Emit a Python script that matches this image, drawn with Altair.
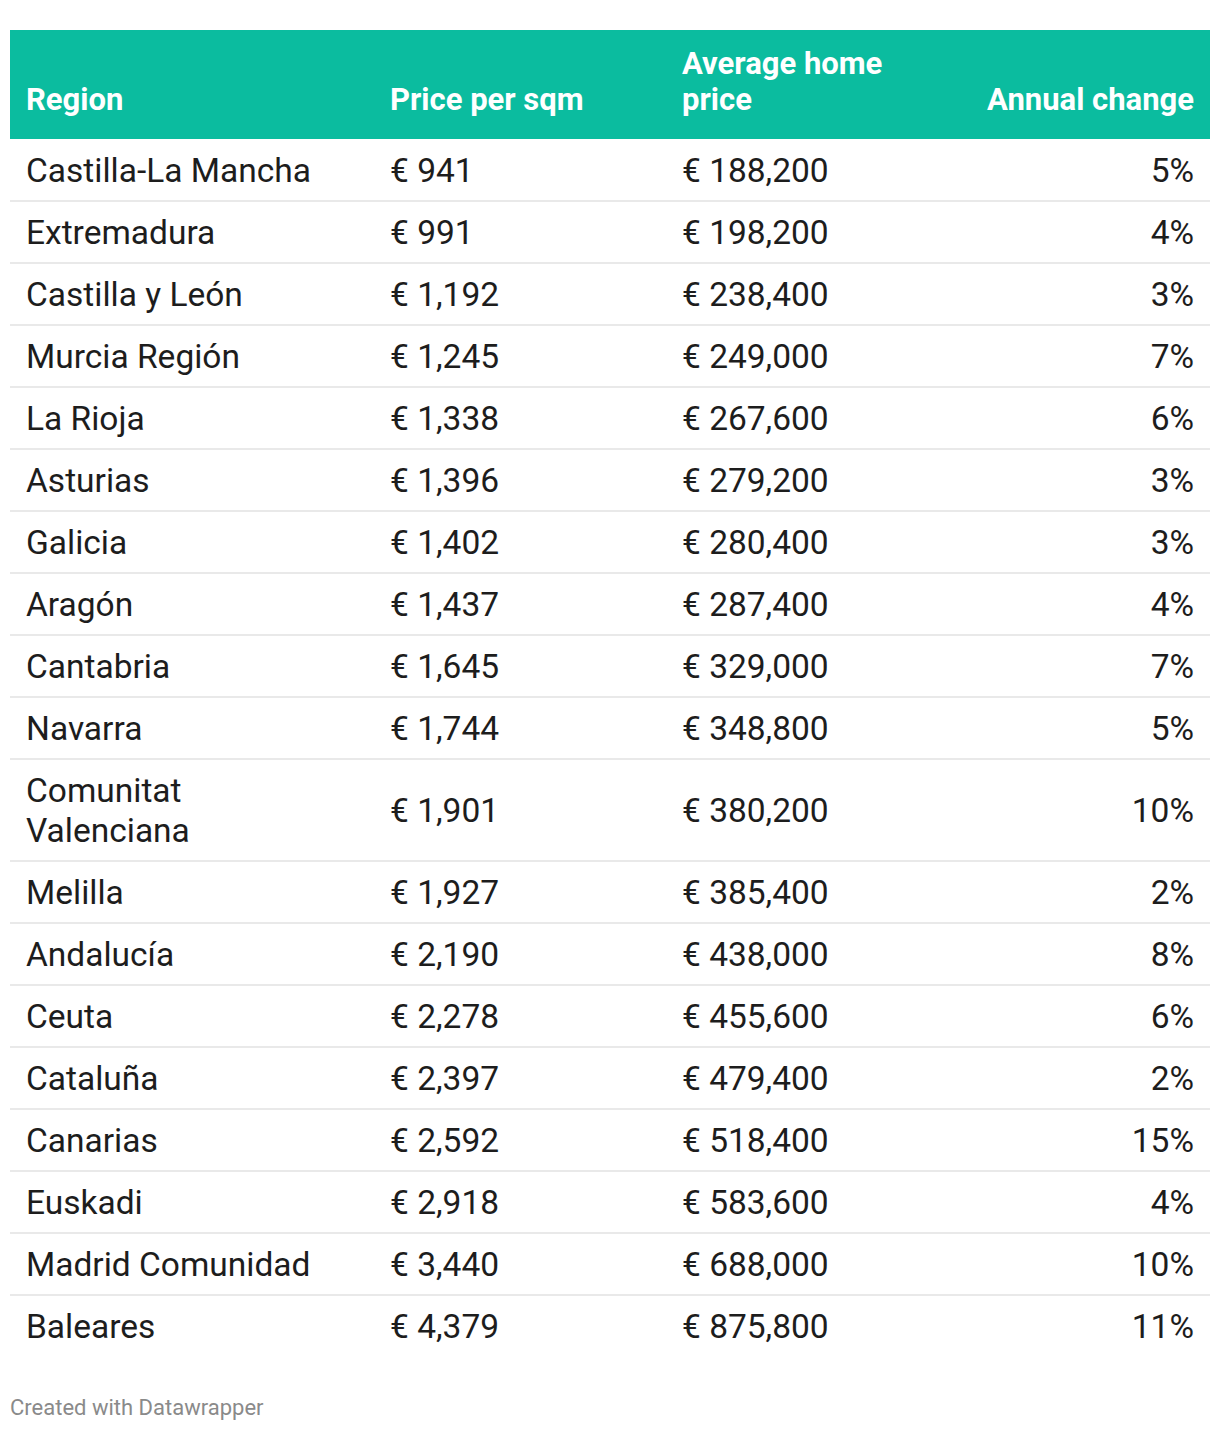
import textwrap
import altair as alt
import pandas as pd

# ---------------- data ----------------
regions = ["Castilla-La Mancha", "Extremadura", "Castilla y León", "Murcia Región",
           "La Rioja", "Asturias", "Galicia", "Aragón", "Cantabria", "Navarra",
           "Comunitat Valenciana", "Melilla", "Andalucía", "Ceuta", "Cataluña",
           "Canarias", "Euskadi", "Madrid Comunidad", "Baleares"]
price_sqm = [941, 991, 1192, 1245, 1338, 1396, 1402, 1437, 1645, 1744,
             1901, 1927, 2190, 2278, 2397, 2592, 2918, 3440, 4379]
avg_price = [188200, 198200, 238400, 249000, 267600, 279200, 280400, 287400,
             329000, 348800, 380200, 385400, 438000, 455600, 479400, 518400,
             583600, 688000, 875800]
annual_change = [5, 4, 3, 7, 6, 3, 3, 4, 7, 5, 10, 2, 8, 6, 2, 15, 4, 10, 11]
headers = ["Region", "Price per sqm", "Average home price", "Annual change"]
footer = "Created with Datawrapper"

# ---------------- layout ----------------
W, H = 1204, 1416
LEFT, RIGHT = 2, 1202
HEAD_TOP, HEAD_BOT = 22, 131
ROW_H, LINE_H = 62, 40
HEAD_LINE_H = 36
HEAD_BASE = 109
COL_X = [18, 382, 674, 1186]
COL_ALIGN = ["left", "left", "left", "right"]
GREEN = "#0bbc9f"
FONT = "Roboto"
BODY_SIZE = 33.5
HEAD_SIZE = 31
FOOT_SIZE = 22

body_lines = ["\n".join(textwrap.wrap(r, 19)) for r in regions]
n_lines = [s.count("\n") + 1 for s in body_lines]
heights = [ROW_H + (n - 1) * LINE_H for n in n_lines]
tops, t = [], HEAD_BOT
for h in heights:
    tops.append(t)
    t += h

rows = pd.DataFrame({
    "region": body_lines,
    "nl": n_lines,
    "sqm": price_sqm,
    "avg": avg_price,
    "chg": annual_change,
    "top": tops,
    "bot": [a + b for a, b in zip(tops, heights)],
})
rows["yc"] = (rows["top"] + rows["bot"]) / 2 + 2
rows["yr"] = rows["yc"] - (rows["nl"] - 1) * LINE_H / 2
rows["idx"] = range(len(rows))

xs = alt.Scale(domain=[0, W], range=[0, W])
ys = alt.Scale(domain=[0, H], range=[0, H])

head_df = pd.DataFrame({"x0": [LEFT], "x1": [RIGHT], "y0": [HEAD_TOP], "y1": [HEAD_BOT]})
header_band = alt.Chart(head_df).mark_rect(color=GREEN).encode(
    x=alt.X("x0:Q", scale=xs, axis=None), x2="x1:Q",
    y=alt.Y("y0:Q", scale=ys, axis=None), y2="y1:Q")

hdr_labels = ["\n".join(textwrap.wrap(h, 14)) for h in headers]
hdr = pd.DataFrame({
    "label": hdr_labels,
    "y": [HEAD_BASE - (s.count("\n")) * HEAD_LINE_H for s in hdr_labels],
})
header_layers = []
for i in range(4):
    header_layers.append(
        alt.Chart(hdr.iloc[[i]]).mark_text(
            font=FONT, fontSize=HEAD_SIZE, fontWeight="bold", color="white",
            align=COL_ALIGN[i], baseline="bottom", lineBreak="\n",
            lineHeight=HEAD_LINE_H,
        ).encode(
            x=alt.value(COL_X[i]),
            y=alt.Y("y:Q", scale=ys, axis=None),
            text="label:N")
    )

dividers = alt.Chart(rows[rows["idx"] < len(rows) - 1]).mark_rule(
    color="#e9e9e9", strokeWidth=2).encode(
    x=alt.value(LEFT), x2=alt.value(RIGHT),
    y=alt.Y("bot:Q", scale=ys, axis=None))

base = alt.Chart(rows).transform_calculate(
    sqm_t="'€ ' + format(datum.sqm, ',')",
    avg_t="'€ ' + format(datum.avg, ',')",
    chg_t="datum.chg + '%'",
)
fields = ["region", "sqm_t", "avg_t", "chg_t"]
body_layers = []
for i, f in enumerate(fields):
    body_layers.append(
        base.mark_text(font=FONT, fontSize=BODY_SIZE, color="#1d1d1d",
                       align=COL_ALIGN[i], baseline="middle", lineBreak="\n",
                       lineHeight=LINE_H).encode(
            x=alt.value(COL_X[i]),
            y=alt.Y("yr:Q" if i == 0 else "yc:Q", scale=ys, axis=None),
            text=f"{f}:N")
    )

foot_df = pd.DataFrame({"t": [footer], "y": [1400]})
foot = alt.Chart(foot_df).mark_text(
    font=FONT, fontSize=FOOT_SIZE, color="#8a8a8a", align="left", baseline="middle").encode(
    x=alt.value(LEFT), y=alt.Y("y:Q", scale=ys, axis=None), text="t:N")

chart = alt.layer(header_band, *header_layers, dividers, *body_layers, foot).properties(
    width=W, height=H, padding=0, autosize="none", background="white"
).configure_view(stroke=None)

chart.save("out.html", embed_options={"renderer": "svg", "actions": False})
